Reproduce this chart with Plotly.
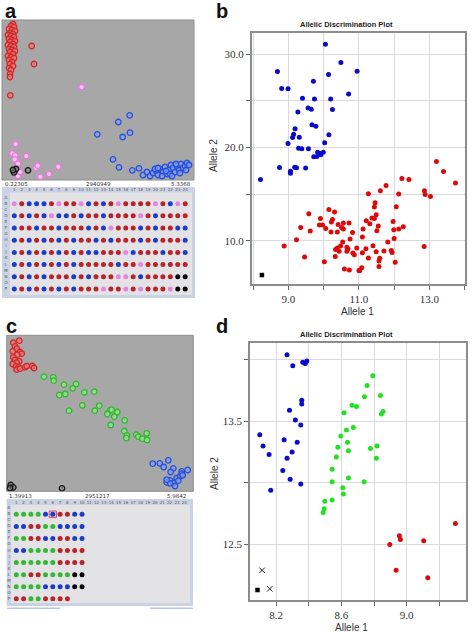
import plotly.graph_objects as go

W, H = 472, 632

# ---------------- Panel a (scatter, relative fluorescence units) ----------------
a_red_x = [11, 9, 12, 7, 10, 13, 8, 11, 6, 9, 12, 7, 10, 13, 8, 11, 6, 9, 12, 7, 10, 13, 8, 11, 6, 9, 12, 7, 10, 8, 11, 7, 9, 8, 8, 29.7, 32, 8.3]
a_red_y = [156, 154, 153, 151, 150, 149, 147, 146, 145, 144, 143, 141, 140, 139, 138, 136, 135, 134, 133, 131, 130, 129, 128, 126, 124, 123, 122, 120, 118, 116, 114, 112, 110, 106, 103, 134, 116, 84.7]
a_pink_x = [79.7, 13.7, 10.3, 13.3, 24.3, 16, 34, 35.7, 56.3, 47, 38.3, 15.3, 12.7, 16, 18]
a_pink_y = [93, 36, 26.7, 24.7, 24, 16.3, 12.3, 14.3, 13.3, 6, 3.3, 6.7, 20.7, 4, 8]
a_black_x = [12, 14, 11, 26]
a_black_y = [7.7, 11, 10, 9.7]
a_blue_x = [127.7, 116.3, 95.3, 120.7, 128, 111, 117, 130.3, 137,
            141, 145, 148, 151, 154, 156, 158, 161, 163, 165, 167, 169, 171, 173, 175, 177, 179, 181, 183, 185,
            187, 168, 160, 153, 174, 178, 164, 184, 156, 170]
a_blue_y = [64.7, 58, 45.7, 43, 47.3, 20.7, 12.7, 9.7, 11.7,
            5, 8, 4, 7, 9, 5, 11, 8, 13, 6, 10, 15, 12, 8, 14, 10, 16, 12, 14, 17,
            15, 6, 4, 11, 16, 7, 9, 10, 12, 4]
a_strip = ["0.22305", "2940949", "5.3368"]

# ---------------- Panel a plate (rows B..P, columns 1..24) ----------------
plate_rows = ["B", "D", "F", "H", "J", "L", "N", "P"]
row_letters = list("ABCDEFGHIJKLMNOP")
plate_a = [
    "PRBBBRPRRPBRBRPRRRRPRBPR",
    "BRBRBPBBRBRRBRRRRPRBRRRR",
    "BRRBRRBRRRBRBPRRRBRBRRBB",
    "BRBRBRBRBRRBRBRRRBRBRRRB",
    "BRBRBRBRBRBBRRRPBRRRBRRB",
    "BRBRBRBRBRRRRRBRRPRRRRRR",
    "BRBRBRRRBRBRRRPPRBRRRRKK",
    "BRBRBRBRBRRRPRRPRPRRRPKK",
]

# ---------------- Panel b (Allelic Discrimination Plot) ----------------
b_blue_x = [10.05, 10.49, 8.69, 10.95, 10.14, 9.71, 8.81, 8.99, 10.71, 9.40, 9.74, 10.20, 9.56, 9.65, 10.25,
            9.27, 9.67, 9.78, 9.19, 9.15, 9.12, 9.31, 10.15, 8.99, 10.03, 9.29, 9.38, 9.57, 9.83, 9.92,
            9.72, 9.81, 9.99, 9.91, 8.75, 9.18, 9.23, 9.49, 9.06, 9.06, 8.21]
b_blue_y = [31.07, 29.11, 28.14, 28.18, 27.82, 27.11, 26.32, 26.29, 25.75, 25.29, 25.21, 25.21, 24.25, 24.11, 24.07,
            23.82, 22.43, 22.29, 22.0, 21.43, 21.07, 21.11, 21.36, 20.43, 20.5, 19.93, 19.86, 19.86, 19.5, 19.21,
            19.0, 19.04, 19.5, 19.36, 17.86, 17.89, 17.82, 17.79, 17.46, 17.25, 16.57]
b_red_x = [13.20, 13.40, 12.22, 12.42, 13.74, 11.77, 11.61, 12.86, 12.88, 13.03, 12.13, 11.27, 11.46, 11.44, 12.06,
           10.15, 10.31, 9.58, 11.49, 11.37, 11.44, 11.21, 9.91, 10.25, 10.22, 11.97, 10.56, 10.72, 10.41, 9.88,
           9.97, 11.31, 9.35, 10.06, 10.51, 10.56, 11.55, 11.51, 11.12, 11.99, 12.13, 12.26, 9.62, 10.21, 10.39,
           10.82, 11.10, 10.75, 12.0, 9.23, 10.54, 11.82, 8.88, 10.39, 10.34, 10.48, 10.66, 10.69, 10.94, 11.20,
           11.40, 12.85, 10.44, 10.66, 10.83, 10.87, 11.10, 11.49, 11.71, 11.92, 11.94, 10.33, 11.27, 11.59, 11.57,
           9.46, 12.03, 10.02, 11.57, 10.59, 10.73, 11.02, 11.08, 11.0]
b_red_y = [18.5, 17.43, 16.68, 16.57, 16.18, 15.93, 15.36, 15.36, 14.96, 14.75, 15.0, 15.04, 14.07, 13.61, 13.64,
           13.36, 13.07, 12.89, 12.79, 12.43, 12.39, 12.14, 12.39, 12.29, 12.0, 12.07, 11.89, 11.89, 11.75, 11.68,
           11.68, 11.82, 11.43, 11.32, 11.43, 11.25, 11.57, 11.07, 11.25, 11.18, 11.25, 11.5, 11.04, 10.93, 10.93,
           10.89, 10.39, 10.18, 10.25, 10.11, 9.86, 9.86, 9.43, 9.21, 9.07, 9.43, 9.29, 9.14, 9.21, 9.14,
           9.46, 9.39, 8.86, 8.86, 8.68, 8.5, 8.71, 8.82, 8.89, 8.96, 8.75, 8.32, 8.14, 8.11, 7.82,
           8.25, 7.68, 7.75, 7.25, 6.96, 6.86, 6.79, 7.11, 6.82]
b_ntc_x = [8.25]
b_ntc_y = [6.32]
b_xticks = [8, 9, 10, 11, 12, 13, 14]
b_xtext = ["", "9.0", "", "11.0", "", "13.0", ""]
b_yticks = [10, 15, 20, 25, 30]
b_ytext = ["10.0", "", "20.0", "", "30.0"]

# ---------------- Panel c (scatter, relative units) ----------------
c_red_x = [6.6, 12.6, 8.3, 10, 6, 13.3, 15, 10.6, 6.6, 8.3, 12.6, 10, 6, 9.3, 12, 10, 13.3, 18.3, 20, 25.6, 27.3]
c_red_y = [148.6, 150.6, 145, 142.6, 140, 139.3, 137.6, 136.6, 134, 131.3, 130, 128.6, 127.3, 125, 124, 121.6, 122.6, 124, 125.3, 125.3, 123.3]
c_green_x = [37.3, 46.6, 47, 57.3, 69.3, 66, 52.6, 58.6, 77.6, 87.6, 62.3, 75.6, 92.6, 88, 103.3, 105, 110.6, 100.6,
             107.6, 118, 104, 117.6, 120.3, 119.6, 129.6, 131.6, 135.6, 140, 140.3]
c_green_y = [114.6, 114, 110.6, 106.6, 107.3, 103, 96.3, 97.3, 99, 99.6, 80.6, 86, 85.6, 80.6, 81, 81.6, 79.3, 77.3,
             74.6, 71, 66.3, 60.3, 56, 53.3, 56.6, 54.6, 52.6, 58, 51.3]
c_blue_x = [146, 153, 157, 161.6, 166.6, 164, 175, 181, 160, 163.3, 166.6, 170, 173.3, 175, 171.6, 168.3, 163.3, 160, 176]
c_blue_y = [27.6, 28, 24.3, 31, 23, 19.3, 20, 21.3, 9, 11, 8.3, 13.3, 15, 17.6, 10.6, 5.3, 8, 11.6, 16]
c_black_x = [4, 6.6, 3.3, 55.3]
c_black_y = [6.3, 4, 3.3, 3]
c_strip = ["1.39913", "2951217", "5.9842"]

plate_c = [
    "GGGGBBRRBB",
    "BBRRGGBBBB",
    "GGRRBBRRBB",
    "BBGGGGRRRR",
    "GGGGGGRRRR",
    "GGRRGGGGKK",
    "GGGGBBBBKK",
    "RRGGRRRR",
]

# ---------------- Panel d ----------------
d_blue_x = [8.267, 8.302, 8.363, 8.378, 8.388, 8.357, 8.357, 8.282, 8.318, 8.351, 8.10, 8.12, 8.249, 8.329,
            8.157, 8.298, 8.267, 8.241, 8.286, 8.351, 8.167]
d_blue_y = [14.04, 13.95, 13.98, 13.97, 13.99, 13.67, 13.64, 13.59, 13.51, 13.47, 13.39, 13.30, 13.35, 13.33,
            13.23, 13.25, 13.20, 13.10, 13.03, 12.99, 12.94]
d_green_x = [8.792, 8.757, 8.741, 8.839, 8.665, 8.692, 8.616, 8.855, 8.845, 8.673, 8.631, 8.596, 8.637, 8.578,
             8.778, 8.818, 8.643, 8.569, 8.814, 8.543, 8.643, 8.543, 8.739, 8.608, 8.612, 8.498, 8.543, 8.494, 8.488]
d_green_y = [13.87, 13.79, 13.70, 13.71, 13.63, 13.62, 13.57, 13.58, 13.56, 13.45, 13.43, 13.38, 13.33, 13.29,
             13.28, 13.30, 13.26, 13.21, 13.20, 13.11, 13.04, 13.01, 13.01, 12.96, 12.91, 12.85, 12.86, 12.79, 12.76]
d_red_x = [9.298, 8.955, 8.961, 8.896, 9.104, 8.935, 9.129]
d_red_y = [12.67, 12.57, 12.54, 12.50, 12.53, 12.29, 12.23]
d_undet_x = [8.114, 8.161]
d_undet_y = [12.29, 12.14]
d_ntc_x = [8.086]
d_ntc_y = [12.13]
d_xticks = [8.2, 8.4, 8.6, 8.8, 9.0, 9.2]
d_xtext = ["8.2", "", "8.6", "", "9.0", ""]
d_yticks = [12.5, 13.0, 13.5, 14.0]
d_ytext = ["12.5", "", "13.5", ""]

# ---------------- helpers ----------------
def dx(p0, p1):
    return [p0 / W, p1 / W]

def dy(p0, p1):
    return [1 - p1 / H, 1 - p0 / H]

def px(x):
    return x / W

def py(y):
    return 1 - y / H

fig = go.Figure()

RING = {
    "R": ("rgba(235,120,120,0.75)", "#d02a2a"),
    "P": ("#ffc0f4", "#e878dc"),
    "B": ("rgba(130,160,240,0.7)", "#2a50d8"),
    "K": ("rgba(120,120,120,0.6)", "#1a1a1a"),
    "G": ("rgba(150,230,140,0.75)", "#30b830"),
}

def rings(x, y, key, xa, ya, size=5.5):
    fill, line = RING[key]
    fig.add_trace(go.Scatter(x=x, y=y, mode="markers", xaxis=xa, yaxis=ya, showlegend=False,
                             marker=dict(size=size, color=fill, line=dict(color=line, width=1.3))))

rings(a_red_x, a_red_y, "R", "x", "y")
rings(a_blue_x, a_blue_y, "B", "x", "y")
rings(a_pink_x, a_pink_y, "P", "x", "y", size=5.5)
rings(a_black_x, a_black_y, "K", "x", "y")

rings(c_red_x, c_red_y, "R", "x4", "y4")
rings(c_green_x, c_green_y, "G", "x4", "y4")
rings(c_blue_x, c_blue_y, "B", "x4", "y4")
rings(c_black_x, c_black_y, "K", "x4", "y4")

WELL = {"R": "#b8242a", "B": "#1e3cc8", "P": "#e486e0", "K": "#050505", "G": "#34b834"}

def plate(rows, xa, ya, hy, lx):
    xs, ys, cs = [], [], []
    for letter, s in zip(plate_rows, rows):
        r = row_letters.index(letter) + 1
        for ci, ch in enumerate(s):
            xs.append(ci + 1)
            ys.append(r)
            cs.append(WELL[ch])
    fig.add_trace(go.Scatter(x=xs, y=ys, mode="markers", xaxis=xa, yaxis=ya, showlegend=False,
                             marker=dict(size=5, color=cs, line=dict(width=0))))
    fig.add_trace(go.Scatter(x=list(range(1, 25)), y=[hy] * 24, mode="text", xaxis=xa, yaxis=ya,
                             text=[str(i) for i in range(1, 25)], showlegend=False,
                             textfont=dict(size=4, color="#555", family="DejaVu Sans")))
    fig.add_trace(go.Scatter(x=[lx] * 16, y=list(range(1, 17)), mode="text", xaxis=xa, yaxis=ya,
                             text=row_letters, showlegend=False,
                             textfont=dict(size=4, color="#555", family="DejaVu Sans")))

plate(plate_a, "x2", "y2", -0.25, -0.12)
plate(plate_c, "x5", "y5", 0.07, 0.0)

def dots(x, y, color, xa, ya, symbol="circle", size=5):
    fig.add_trace(go.Scatter(x=x, y=y, mode="markers", xaxis=xa, yaxis=ya, showlegend=False,
                             marker=dict(size=size, color=color, symbol=symbol, line=dict(width=0))))

dots(b_blue_x, b_blue_y, "#0a0ac8", "x3", "y3")
dots(b_red_x, b_red_y, "#dc0a0a", "x3", "y3")
dots(b_ntc_x, b_ntc_y, "#000000", "x3", "y3", symbol="square", size=4.5)

dots(d_blue_x, d_blue_y, "#0a0ac8", "x6", "y6")
dots(d_green_x, d_green_y, "#22e022", "x6", "y6")
dots(d_red_x, d_red_y, "#dc0a0a", "x6", "y6")
dots(d_ntc_x, d_ntc_y, "#000000", "x6", "y6", symbol="square", size=4.5)
fig.add_trace(go.Scatter(x=d_undet_x, y=d_undet_y, mode="markers", xaxis="x6", yaxis="y6", showlegend=False,
                         marker=dict(size=5.5, color="#222", symbol="x-thin", line=dict(color="#222", width=1))))

hidden = dict(visible=False, fixedrange=True)
layout = dict(
    width=W, height=H, margin=dict(l=0, r=0, t=0, b=0),
    paper_bgcolor="white", plot_bgcolor="rgba(0,0,0,0)", showlegend=False,
    xaxis=dict(domain=dx(2, 194), range=[0, 192], **hidden),
    yaxis=dict(domain=dy(20, 180), range=[0, 160], **hidden),
    xaxis2=dict(domain=dx(2, 195), range=[-0.655, 25.32], anchor="y2", **hidden),
    yaxis2=dict(domain=dy(187, 298), range=[17.49, -0.74], anchor="x2", **hidden),
    xaxis4=dict(domain=dx(6.7, 193.3), range=[0, 186.6], anchor="y4", **hidden),
    yaxis4=dict(domain=dy(335.3, 491.3), range=[0, 156], anchor="x4", **hidden),
    xaxis5=dict(domain=dx(6.7, 193), range=[-0.315, 25.2], anchor="y5", **hidden),
    yaxis5=dict(domain=dy(499, 606), range=[17.2, -0.54], anchor="x5", **hidden),
)

tickfont = dict(family="Liberation Serif", size=11, color="#333")
def sci_axis(dom, rng, vals, text, anchor):
    return dict(domain=dom, range=rng, tickmode="array", tickvals=vals, ticktext=text, anchor=anchor,
                showgrid=True, gridcolor="#d9d9e2", gridwidth=1, zeroline=False,
                showline=True, mirror=True, linecolor="#8c8c8c", linewidth=1.5,
                ticks="outside", ticklen=4, tickcolor="#666", tickfont=tickfont, fixedrange=True)

layout["xaxis3"] = sci_axis(dx(251.7, 465), [7.96, 14.01], b_xticks, b_xtext, "y3")
layout["yaxis3"] = sci_axis(dy(33.3, 284), [5.36, 32.25], b_yticks, b_ytext, "x3")
layout["xaxis6"] = sci_axis(dx(250, 466), [8.04, 9.363], d_xticks, d_xtext, "y6")
layout["yaxis6"] = sci_axis(dy(342.7, 600), [12.049, 14.138], d_yticks, d_ytext, "x6")
fig.update_layout(**layout)

shapes = []
def rect(x0, y0, x1, y1, fill, line=None, lw=0):
    shapes.append(dict(type="rect", xref="paper", yref="paper", x0=px(x0), x1=px(x1), y0=py(y1), y1=py(y0),
                       fillcolor=fill, line=dict(color=line or fill, width=lw), layer="below"))

rect(2, 20, 194, 180, "#a7a7a7", "#8e8e8e", 1)
rect(6.7, 335.3, 193.3, 491.3, "#a7a7a7", "#8e8e8e", 1)
rect(2, 187, 195, 298, "#cad2e4")
rect(10, 192.5, 192, 295, "#e3e3e5")
rect(6.7, 499, 193, 606, "#cad2e4")
rect(11, 505, 190, 603, "#e3e3e5")
rect(7, 607.5, 60, 609, "#b8c6e0")
rect(150, 607.5, 193, 609, "#b8c6e0")
shapes.append(dict(type="rect", xref="x5", yref="y5", x0=5.5, x1=6.5, y0=1.45, y1=2.55,
                   fillcolor="rgba(240,160,180,0.5)", line=dict(color="#d05070", width=1), layer="below"))
fig.update_layout(shapes=shapes)

ann = []
def text(x, y, s, size, family="Liberation Sans", color="#222", bold=False, xanchor="center", angle=0):
    ann.append(dict(x=px(x), y=py(y), xref="paper", yref="paper", text=f"<b>{s}</b>" if bold else s,
                    showarrow=False, xanchor=xanchor, yanchor="middle", textangle=angle,
                    font=dict(size=size, family=family, color=color)))

text(11, 11, "a", 20, bold=True, color="#111")
text(222, 11, "b", 20, bold=True, color="#111")
text(11, 326, "c", 20, bold=True, color="#111")
text(222, 326, "d", 20, bold=True, color="#111")

text(3, 184, a_strip[0], 5.5, family="DejaVu Sans", color="#333", xanchor="left")
text(98, 184, a_strip[1], 5.5, family="DejaVu Sans", color="#333")
text(193, 184, a_strip[2], 5.5, family="DejaVu Sans", color="#333", xanchor="right")
text(7, 495.5, c_strip[0], 5.5, family="DejaVu Sans", color="#333", xanchor="left")
text(97, 495.5, c_strip[1], 5.5, family="DejaVu Sans", color="#333")
text(188, 495.5, c_strip[2], 5.5, family="DejaVu Sans", color="#333", xanchor="right")

text(346, 24.5, "Allelic Discrimination Plot", 7.5, bold=True, color="#222")
text(357, 311, "Allele 1", 10, color="#333")
text(213, 156, "Allele 2", 10, color="#333", angle=-90)
text(346, 334.5, "Allelic Discrimination Plot", 7.5, bold=True, color="#222")
text(351, 627, "Allele 1", 10, color="#333")
text(214, 474, "Allele 2", 10, color="#333", angle=-90)
fig.update_layout(annotations=ann)

fig.write_html("out.html", config={"displayModeBar": False},
               post_script="document.body.style.margin='0';document.body.style.padding='0';")
